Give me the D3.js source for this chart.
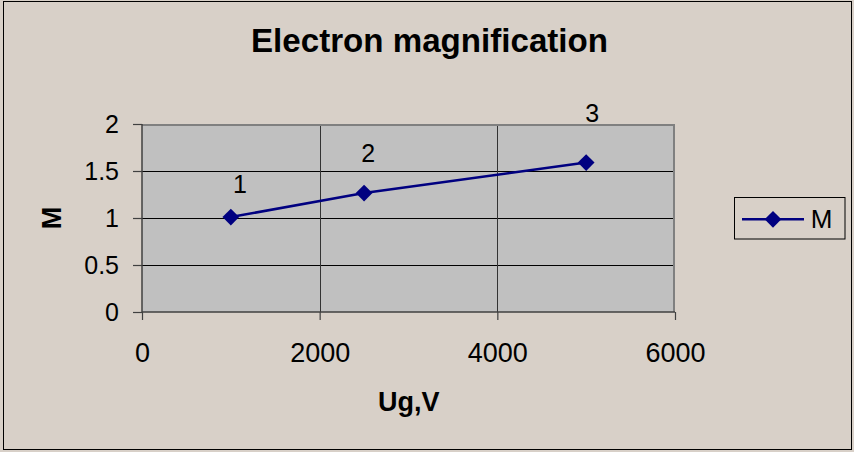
<!DOCTYPE html>
<html>
<head>
<meta charset="utf-8">
<script src="https://cdn.jsdelivr.net/npm/d3@7"></script>
<style>
  body { margin: 0; background: #d8d0c8; }
  text { font-family: "Liberation Sans", Arial, sans-serif; fill: #000; }
</style>
</head>
<body>
<div id="graph"></div>
<script>
// data
var ugValues = [1000, 2500, 5000]
var mValues = [1.01, 1.265, 1.59]
var pointLabels = ["1", "2", "3"]
var xTicks = [0, 2000, 4000, 6000]
var yTicks = [0, 0.5, 1, 1.5, 2]
var seriesName = "M"

// label nudges (the labels were placed by hand in the original)
var labelDx = [9, 4, 6]
var labelDy = [-24, -31, -41]

var w = 854, h = 452
var pLeft = 142, pRight = 675, pTop = 124, pBottom = 312
var navy = "#000080"

var svg = d3.select("#graph").append("svg")
    .attr("width", w)
    .attr("height", h)

svg.append("rect")
    .attr("x", 3.5).attr("y", 1.5)
    .attr("width", 848).attr("height", 448)
    .attr("fill", "#d8d0c8")
    .attr("stroke", "#000")

var x = d3.scaleLinear().domain([0, 6000]).range([pLeft, pRight])
var y = d3.scaleLinear().domain([0, 2]).range([pBottom, pTop])

// plot area
svg.append("rect")
    .attr("x", pLeft).attr("y", pTop)
    .attr("width", pRight - pLeft).attr("height", pBottom - pTop)
    .attr("fill", "#c0c0c0")

// gridlines
svg.append("g").selectAll("line")
    .data(yTicks.filter(function(d) { return d > 0 && d < 2 }))
    .enter().append("line")
    .attr("x1", pLeft).attr("x2", pRight)
    .attr("y1", function(d) { return Math.round(y(d)) + 0.5 })
    .attr("y2", function(d) { return Math.round(y(d)) + 0.5 })
    .attr("stroke", "#000")
    .attr("stroke-width", 1)

svg.append("g").selectAll("line")
    .data(xTicks.filter(function(d) { return d > 0 && d < 6000 }))
    .enter().append("line")
    .attr("x1", function(d) { return Math.round(x(d)) + 0.5 })
    .attr("x2", function(d) { return Math.round(x(d)) + 0.5 })
    .attr("y1", pTop).attr("y2", pBottom)
    .attr("stroke", "#333")
    .attr("stroke-width", 1)

// top and right border of plot
svg.append("path")
    .attr("d", "M" + pLeft + "," + (pTop + 1) + "H" + (pRight - 1) + "V" + pBottom)
    .attr("fill", "none")
    .attr("stroke", "#808080")
    .attr("stroke-width", 2)

// axes
var yAxis = svg.append("g")
    .attr("transform", "translate(" + pLeft + ",0)")
    .call(d3.axisLeft(y).tickValues(yTicks).tickSize(9).tickPadding(14)
        .tickFormat(function(d) { return String(d) }))
yAxis.selectAll("text").attr("font-size", 25).attr("font-family", null)

var xAxis = svg.append("g")
    .attr("transform", "translate(0," + pBottom + ")")
    .call(d3.axisBottom(x).tickValues(xTicks).tickSize(8).tickPadding(23)
        .tickFormat(function(d) { return String(d) }))
xAxis.selectAll("text").attr("font-size", 27).attr("font-family", null)

svg.selectAll(".domain").attr("stroke", "#404040").attr("stroke-width", 1.5)
svg.selectAll(".tick line").attr("stroke", "#404040").attr("stroke-width", 1.2)
xAxis.select(".domain").attr("d", "M" + pLeft + ",0H" + pRight)
yAxis.select(".domain").attr("d", "M0," + pTop + "V" + pBottom)

// series line
var pts = ugValues.map(function(d, i) { return [d, mValues[i]] })
var line = d3.line()
    .x(function(d) { return x(d[0]) })
    .y(function(d) { return y(d[1]) })

svg.append("path")
    .datum(pts)
    .attr("d", line)
    .attr("fill", "none")
    .attr("stroke", navy)
    .attr("stroke-width", 2.5)

var diamond = d3.symbol().type(d3.symbolSquare).size(140)
svg.append("g").selectAll("path")
    .data(pts)
    .enter().append("path")
    .attr("d", diamond)
    .attr("transform", function(d) { return "translate(" + x(d[0]) + "," + y(d[1]) + ") rotate(45)" })
    .attr("fill", navy)

svg.append("g").selectAll("text")
    .data(pts)
    .enter().append("text")
    .attr("x", function(d, i) { return x(d[0]) + labelDx[i] })
    .attr("y", function(d, i) { return y(d[1]) + labelDy[i] })
    .attr("text-anchor", "middle")
    .attr("font-size", 25)
    .text(function(d, i) { return pointLabels[i] })

// titles
svg.append("text")
    .attr("x", 429.5).attr("y", 51.7)
    .attr("text-anchor", "middle")
    .attr("font-size", 34)
    .attr("font-weight", "bold")
    .attr("textLength", 357)
    .attr("lengthAdjust", "spacingAndGlyphs")
    .text("Electron magnification")

svg.append("text")
    .attr("x", 408.7).attr("y", 411)
    .attr("text-anchor", "middle")
    .attr("font-size", 27)
    .attr("font-weight", "bold")
    .text("Ug,V")

svg.append("text")
    .attr("transform", "translate(61,218) rotate(-90)")
    .attr("text-anchor", "middle")
    .attr("font-size", 27)
    .attr("font-weight", "bold")
    .text(seriesName)

// legend
var lg = svg.append("g")
lg.append("rect")
    .attr("x", 734.5).attr("y", 197.5)
    .attr("width", 110.5).attr("height", 41.5)
    .attr("fill", "none")
    .attr("stroke", "#000")
lg.append("line")
    .attr("x1", 742).attr("x2", 804)
    .attr("y1", 219.3).attr("y2", 219.3)
    .attr("stroke", navy)
    .attr("stroke-width", 2.5)
lg.append("path")
    .attr("d", diamond)
    .attr("transform", "translate(773,219.3) rotate(45)")
    .attr("fill", navy)
lg.append("text")
    .attr("x", 810.7).attr("y", 227.7)
    .attr("font-size", 26)
    .text(seriesName)
</script>
</body>
</html>
